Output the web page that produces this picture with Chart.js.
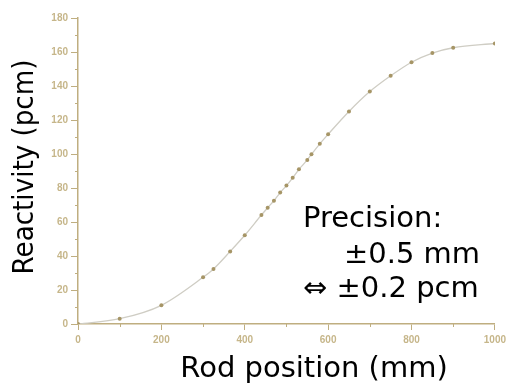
<!DOCTYPE html>
<html>
<head>
<meta charset="utf-8">
<script src="https://cdn.jsdelivr.net/npm/chart.js@4"></script>
<style>
  html, body { margin: 0; padding: 0; background: #fff; }
  #wrap { width: 510px; height: 390px; position: relative; }
</style>
</head>
<body>
<div id="wrap"><canvas id="rodChart"></canvas></div>
<script>
// rod worth curve
const positions = [0, 100, 200, 300, 325, 365, 400, 440, 455, 470, 485, 500, 515, 530, 550, 560, 580, 600, 650, 700, 750, 800, 850, 900, 1000];
const reactivity = [0, 3.1, 11, 27.5, 32.4, 42.7, 52.2, 64.1, 68.4, 72.5, 77.3, 81.4, 86, 91, 96.5, 99.8, 106, 111.6, 125, 136.7, 146, 154, 159.4, 162.5, 165];
const xTitle = "Rod position (mm)";
const yTitle = "Reactivity (pcm)";
const noteLines = ["Precision:", "±0.5 mm", "⇔ ±0.2 pcm"];

const axisColor = "#bfae80";
const labelColor = "#c6b68a";

// short minor ticks between the labelled ones
const minorTicks = {
    id: "minorTicks",
    afterDraw(chart) {
        const ctx = chart.ctx;
        const x = chart.scales.x, y = chart.scales.y;
        ctx.save();
        ctx.strokeStyle = axisColor;
        ctx.lineWidth = 1;
        ctx.beginPath();
        for (let v = 100; v < 1000; v += 200) {
            const px = Math.round(x.getPixelForValue(v)) + 0.5;
            ctx.moveTo(px, y.bottom);
            ctx.lineTo(px, y.bottom + 3);
        }
        for (let v = 10; v < 180; v += 20) {
            const py = Math.round(y.getPixelForValue(v)) + 0.5;
            ctx.moveTo(x.left, py);
            ctx.lineTo(x.left - 3, py);
        }
        ctx.stroke();
        ctx.restore();
    }
};

// axis titles and the precision note
const texts = {
    id: "texts",
    afterDraw(chart) {
        const ctx = chart.ctx;
        ctx.save();
        ctx.fillStyle = "#000";
        ctx.font = "29px 'DejaVu Sans'";
        ctx.textBaseline = "alphabetic";
        ctx.textAlign = "center";
        ctx.fillText(xTitle, 314, 377, 272);

        ctx.save();
        ctx.translate(33, 167);
        ctx.rotate(-Math.PI / 2);
        ctx.fillText(yTitle, 0, 0, 215);
        ctx.restore();

        ctx.textAlign = "left";
        ctx.fillText(noteLines[0], 303, 227, 140);
        ctx.fillText(noteLines[1], 344, 263, 136);
        ctx.fillText(noteLines[2], 303, 297, 182);
        ctx.restore();
    }
};

const ctx = document.getElementById("rodChart").getContext("2d");
new Chart(ctx, {
    type: "line",
    data: {
        labels: positions,
        datasets: [{
            data: positions.map((p, i) => ({ x: p, y: reactivity[i] })),
            borderColor: "#cfcdc4",
            borderWidth: 1.3,
            cubicInterpolationMode: "monotone",
            pointRadius: 2,
            pointBackgroundColor: "#a69566",
            pointBorderWidth: 0,
            fill: false
        }]
    },
    options: {
        responsive: true,
        maintainAspectRatio: false,
        animation: false,
        layout: { padding: { left: 0, top: 18, right: 14, bottom: 0 } },
        plugins: { legend: { display: false }, tooltip: { enabled: false } },
        scales: {
            x: {
                type: "linear",
                min: 0, max: 1000,
                afterFit: s => { s.height = 66; },
                ticks: { stepSize: 200, color: labelColor, padding: 4, maxRotation: 0,
                         callback: v => String(v),
                         font: { family: "'Liberation Sans'", size: 10, weight: "bold" } },
                grid: { drawOnChartArea: false, color: axisColor, tickLength: 6 },
                border: { color: axisColor, width: 1.5 }
            },
            y: {
                min: 0, max: 180,
                afterFit: s => { s.width = 78; },
                ticks: { stepSize: 20, color: labelColor, padding: 3,
                         callback: v => String(v),
                         font: { family: "'Liberation Sans'", size: 10, weight: "bold" } },
                grid: { drawOnChartArea: false, color: axisColor, tickLength: 7 },
                border: { color: axisColor, width: 1.5 }
            }
        }
    },
    plugins: [minorTicks, texts]
});
</script>
</body>
</html>
